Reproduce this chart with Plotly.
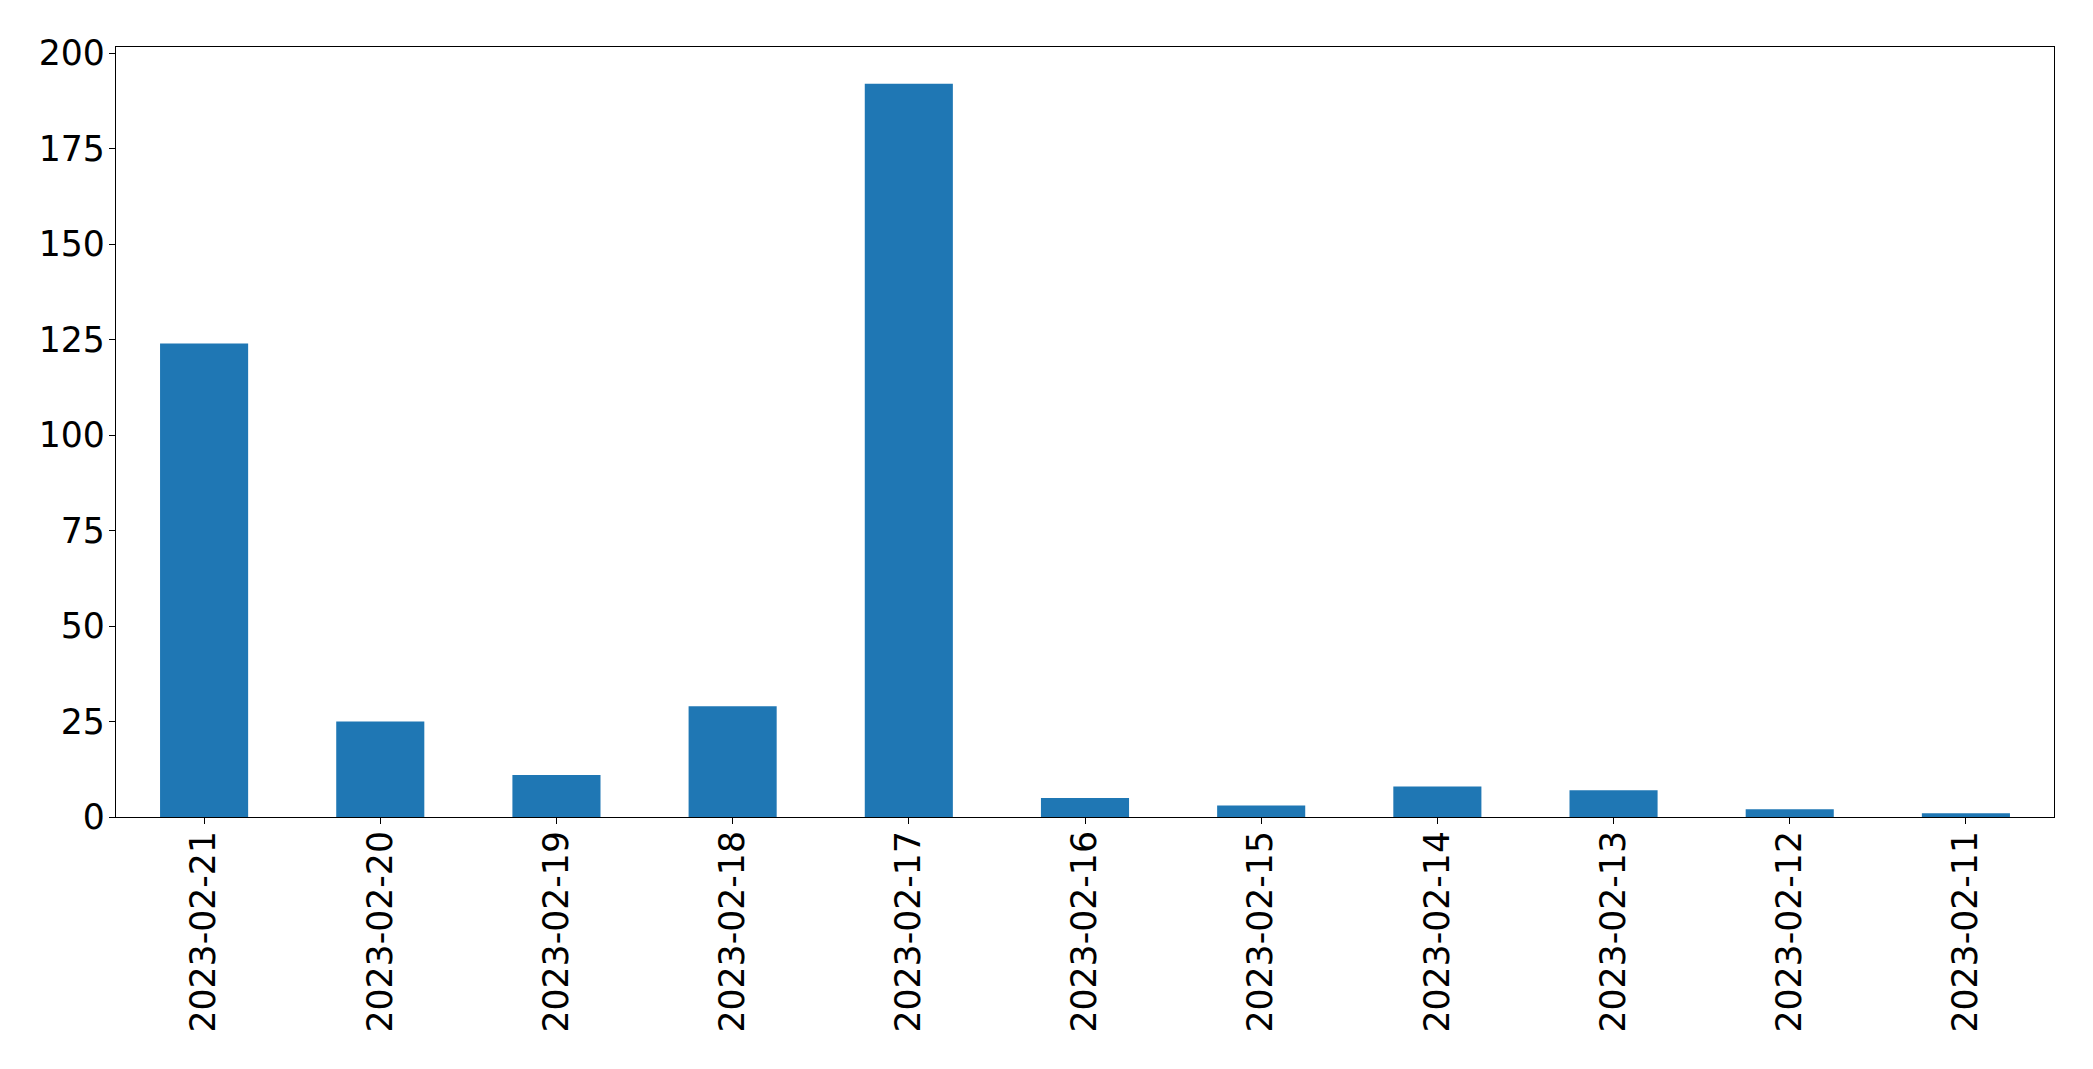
import plotly.graph_objects as go

dates = ["2023-02-21", "2023-02-20", "2023-02-19", "2023-02-18", "2023-02-17",
         "2023-02-16", "2023-02-15", "2023-02-14", "2023-02-13", "2023-02-12", "2023-02-11"]
counts = [124, 25, 11, 29, 192, 5, 3, 8, 7, 2, 1]
y_ticks = [0, 25, 50, 75, 100, 125, 150, 175, 200]

fig = go.Figure(go.Bar(x=dates, y=counts, width=0.5, marker=dict(color="#1f77b4", line=dict(width=0))))

fig.update_layout(
    width=2085, height=1061,
    margin=dict(l=108, r=39, t=39, b=252, autoexpand=False),
    plot_bgcolor="white", paper_bgcolor="white",
    font=dict(family="DejaVu Sans", size=34.7, color="black"),
    showlegend=False,
)
fig.update_xaxes(
    type="category", range=[-0.5, len(dates) - 0.5],
    tickangle=-90, ticks="outside", ticklen=6, tickwidth=1.3, tickcolor="black",
    showline=True, linecolor="black", linewidth=1.3, mirror=True, showgrid=False,
    tickfont=dict(size=34.7), ticklabelstandoff=-7,
)
fig.update_yaxes(
    range=[0, 201.6], tickvals=y_ticks, ticks="outside", ticklen=6, tickwidth=1.3, tickcolor="black",
    showline=True, linecolor="black", linewidth=1.3, mirror=True, showgrid=False, zeroline=False,
    tickfont=dict(size=34.7), ticklabelstandoff=-3,
)
fig.write_html("out.html")
